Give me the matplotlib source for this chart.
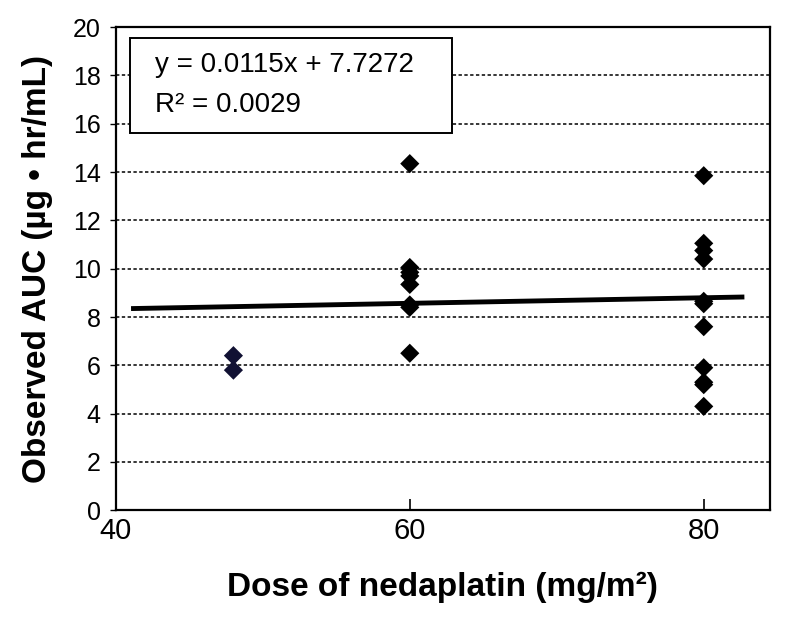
import matplotlib
matplotlib.use("Agg")
import matplotlib.pyplot as plt
from matplotlib.patches import Rectangle

plt.rcParams['font.family'] = ['Liberation Sans', 'DejaVu Sans']

# --- data ---
dose_48 = [48, 48]
auc_48 = [6.4, 5.8]
dose_60 = [60, 60, 60, 60, 60, 60, 60, 60]
auc_60 = [14.35, 10.05, 9.85, 9.7, 9.35, 8.5, 8.4, 6.5]
dose_80 = [80, 80, 80, 80, 80, 80, 80, 80, 80, 80, 80]
auc_80 = [13.85, 11.05, 10.75, 10.4, 8.65, 8.55, 7.6, 5.9, 5.3, 5.2, 4.3]

fit_slope = 0.0115
fit_intercept = 7.7272
fit_x = [41.2, 82.6]
fit_line1 = "y = 0.0115x + 7.7272"
fit_line2 = "R\u00b2 = 0.0029"

y_ticks = [0, 2, 4, 6, 8, 10, 12, 14, 16, 18, 20]
x_ticks = [40, 60, 80]

fig = plt.figure(figsize=(7.88, 6.17), dpi=100)
ax = fig.add_axes([0.147, 0.173, 0.83, 0.783])

# dashed horizontal gridlines
for yv in y_ticks[1:-1]:
    ax.axhline(yv, color='black', linestyle=(0, (2.2, 1.6)), linewidth=1.1, zorder=1)

ax.scatter(dose_48, auc_48, marker='D', s=95, color='#111133', edgecolors='none', zorder=3)
ax.scatter(dose_60, auc_60, marker='D', s=95, color='black', edgecolors='none', zorder=3)
ax.scatter(dose_80, auc_80, marker='D', s=95, color='black', edgecolors='none', zorder=3)

fit_y = [fit_slope * xv + fit_intercept + 0.15 for xv in fit_x]
ax.plot(fit_x, fit_y, color='black', linewidth=3.5, zorder=4)

ax.set_xlim(40, 84.5)
ax.set_ylim(0, 20)
ax.set_xticks(x_ticks)
ax.set_yticks(y_ticks)
ax.tick_params(axis='x', direction='in', length=8, width=1.2, labelsize=21, pad=5)
ax.tick_params(axis='y', direction='out', length=4, width=1.0, labelsize=18, pad=7)
for s in ax.spines.values():
    s.set_linewidth(1.6)

ax.set_xlabel("Dose of nedaplatin (mg/m\u00b2)", fontsize=24, fontweight='bold', labelpad=19)
ax.set_ylabel("Observed AUC (\u00b5g \u2022 hr/mL)", fontsize=24, fontweight='bold', labelpad=14)

# equation box
ax.add_patch(Rectangle((0.021, 0.780), 0.493, 0.197, transform=ax.transAxes,
                       facecolor='white', edgecolor='black', linewidth=1.4, zorder=5))
ax.text(0.06, 0.921, fit_line1, transform=ax.transAxes, fontsize=20,
        va='center', ha='left', zorder=6)
ax.text(0.06, 0.839, fit_line2, transform=ax.transAxes, fontsize=20,
        va='center', ha='left', zorder=6)

fig.savefig("out.png", dpi=100)
